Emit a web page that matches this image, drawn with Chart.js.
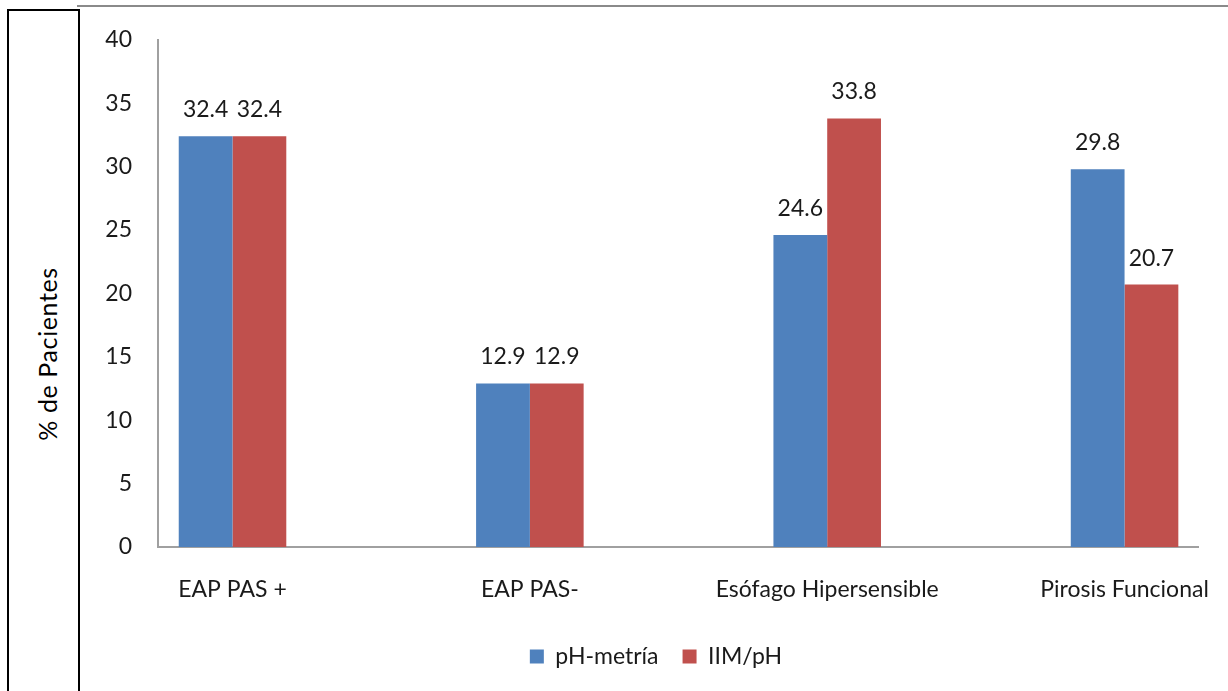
<!DOCTYPE html>
<html>
<head>
<meta charset="utf-8">
<script src="https://cdn.jsdelivr.net/npm/chart.js@4/dist/chart.umd.min.js"></script>
<style>
  html, body { margin: 0; padding: 0; background: #fff; }
  body { width: 1228px; height: 691px; position: relative; overflow: hidden; }
  #topRule { position: absolute; left: 77px; top: 5px; width: 1151px; height: 2px; background: #8a8a8a; }
  #titleBox { position: absolute; left: 7px; top: 9px; width: 69px; height: 700px; border: 2px solid #000; }
  #yTitle {
    position: absolute; left: 47px; top: 354px;
    transform: translate(-50%, -50%) rotate(-90deg);
    font-family: Lato, "Open Sans", sans-serif; font-size: 25px; letter-spacing: 0.6px;
    color: #000; white-space: nowrap;
  }
  canvas { position: absolute; left: 0; top: 0; }
</style>
</head>
<body>
<div id="topRule"></div>
<div id="titleBox"></div>
<div id="yTitle">% de Pacientes</div>
<canvas id="chart" width="1228" height="691"></canvas>
<script>
// Diagnostic groups and the percentage of patients per method
const categories = ['EAP PAS +', 'EAP PAS-', 'Esófago Hipersensible', 'Pirosis Funcional'];
const phMetria = [32.4, 12.9, 24.6, 29.8];
const iimPh = [32.4, 12.9, 33.8, 20.7];
const yTicks = [0, 5, 10, 15, 20, 25, 30, 35, 40];

const FONT = 'Lato, "Open Sans", sans-serif';
const INK = '#1a1a1a';
const SIZE = 23;

// Writes each bar's value just above its top
const valueLabels = {
  id: 'valueLabels',
  afterDatasetsDraw(chart) {
    const ctx = chart.ctx;
    ctx.save();
    ctx.font = SIZE + 'px ' + FONT;
    ctx.fillStyle = INK;
    ctx.textAlign = 'center';
    ctx.textBaseline = 'alphabetic';
    chart.data.datasets.forEach((ds, di) => {
      chart.getDatasetMeta(di).data.forEach((bar, i) => {
        ctx.fillText(ds.data[i].y.toFixed(1), bar.x, bar.y - 19);
      });
    });
    ctx.restore();
  }
};

// Moves the legend row to sit under the middle of the plot
const legendShift = {
  id: 'legendShift',
  afterLayout(chart) {
    if (chart.legend) {
      chart.legend.left += 18;
      chart.legend.right += 18;
    }
  }
};

const toPoints = arr => arr.map((v, i) => ({ x: i, y: v }));

new Chart(document.getElementById('chart'), {
  type: 'bar',
  data: {
    datasets: [
      { label: 'pH-metría', data: toPoints(phMetria), backgroundColor: '#4F81BD',
        categoryPercentage: 0.3617, barPercentage: 1 },
      { label: 'IIM/pH', data: toPoints(iimPh), backgroundColor: '#C0504D',
        categoryPercentage: 0.3617, barPercentage: 1 }
    ]
  },
  options: {
    responsive: false,
    animation: false,
    layout: { padding: { left: 78, right: 30, top: 34, bottom: 13 } },
    scales: {
      x: {
        type: 'linear',
        offset: false,
        min: -0.2506,
        max: 3.247,
        grid: { display: false, drawTicks: false },
        border: { display: true, color: '#a0a0a0', width: 2 },
        afterBuildTicks(scale) { scale.ticks = categories.map((_, i) => ({ value: i })); },
        afterFit(scale) {
          scale.height = 74;
          scale.paddingLeft = 0;
          scale.paddingRight = 0;
        },
        ticks: {
          padding: 29,
          color: INK,
          font: { family: FONT, size: SIZE },
          callback: v => categories[v] ?? ''
        }
      },
      y: {
        min: 0,
        max: 40,
        grid: { display: false, drawTicks: false },
        border: { display: true, color: '#a0a0a0', width: 2 },
        afterBuildTicks(scale) { scale.ticks = yTicks.map(v => ({ value: v })); },
        afterFit(scale) { scale.width = 80; },
        ticks: {
          padding: 26,
          color: INK,
          font: { family: FONT, size: SIZE }
        }
      }
    },
    plugins: {
      legend: {
        position: 'bottom',
        labels: {
          boxWidth: 14,
          boxHeight: 14,
          padding: 24,
          color: INK,
          font: { family: FONT, size: SIZE }
        }
      },
      tooltip: { enabled: false }
    }
  },
  plugins: [valueLabels, legendShift]
});
</script>
</body>
</html>
